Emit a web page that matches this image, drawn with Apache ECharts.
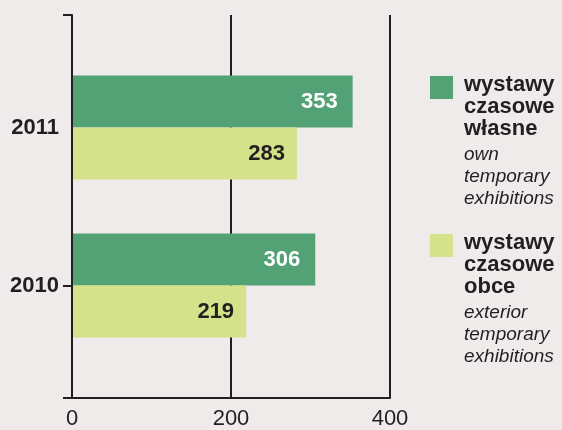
<!DOCTYPE html>
<html>
<head>
<meta charset="utf-8">
<script src="https://cdn.jsdelivr.net/npm/echarts@6/dist/echarts.min.js"></script>
<style>
  html, body { margin: 0; padding: 0; background: #efebea; }
  #chart { width: 562px; height: 430px; }
</style>
</head>
<body>
<div id="chart"></div>
<script>
var years = ['2010', '2011'];
var ownExhib = [306, 353];   // wystawy czasowe własne
var extExhib = [219, 283];   // wystawy czasowe obce
var ownName = 'wystawy czasowe własne';
var extName = 'wystawy czasowe obce';

var ink = '#231f20';
var green = '#52a275';
var lime = '#d4e28a';
var font = "'Liberation Sans', Arial, sans-serif";

var myChart = echarts.init(document.getElementById('chart'));

var option = {
    backgroundColor: '#efebea',
    textStyle: { fontFamily: font },
    animation: false,
    grid: [
        { left: 72, right: 172, top: 48.5, bottom: 65.5 },
        { left: 72, right: 172, top: 15, bottom: 29 }
    ],
    xAxis: [
        { gridIndex: 0, type: 'value', min: 0, max: 400, show: false },
        {
            gridIndex: 1, type: 'value', min: 0, max: 400, interval: 200, z: 0,
            axisLine: { show: true, lineStyle: { color: ink, width: 2 } },
            axisTick: { show: false },
            splitLine: { show: true, lineStyle: { color: ink, width: 2 } },
            axisLabel: { color: ink, fontSize: 22, fontFamily: font, margin: 10 }
        }
    ],
    yAxis: [
        {
            gridIndex: 0, type: 'category', data: years,
            axisLine: { show: false },
            axisTick: {
                show: true, alignWithLabel: true, length: 9,
                interval: function (i, v) { return v === '2010'; },
                lineStyle: { color: ink, width: 2 }
            },
            axisLabel: { color: ink, fontSize: 22, fontWeight: 'bold', fontFamily: font, margin: 13 }
        },
        {
            gridIndex: 1, type: 'value', min: 0, max: 1, interval: 1, z: 20,
            axisLine: { show: true, lineStyle: { color: ink, width: 2 } },
            axisTick: { show: true, length: 9, lineStyle: { color: ink, width: 2 } },
            axisLabel: { show: false },
            splitLine: { show: false }
        }
    ],
    legend: {
        orient: 'vertical',
        left: 425, top: 71,
        itemWidth: 23, itemHeight: 23, itemGap: 135,
        icon: 'rect',
        formatter: function () { return ''; },
        selectedMode: false,
        data: [ownName, extName]
    },
    graphic: [
        { type: 'text', left: 464, top: 74, style: { text: 'wystawy\nczasowe\nwłasne', font: 'bold 22px ' + font, lineHeight: 22, fill: ink } },
        { type: 'text', left: 464, top: 144, style: { text: 'own\ntemporary\nexhibitions', font: 'italic 19px ' + font, lineHeight: 22, fill: ink } },
        { type: 'text', left: 464, top: 232, style: { text: 'wystawy\nczasowe\nobce', font: 'bold 22px ' + font, lineHeight: 22, fill: ink } },
        { type: 'text', left: 464, top: 302, style: { text: 'exterior\ntemporary\nexhibitions', font: 'italic 19px ' + font, lineHeight: 22, fill: ink } }
    ],
    series: [
        {
            name: ownName, type: 'bar', xAxisIndex: 0, yAxisIndex: 0, z: 10,
            data: ownExhib, barWidth: 52, barGap: '0%',
            itemStyle: { color: green },
            label: { show: true, position: 'insideRight', distance: 15, color: '#ffffff', fontSize: 22, fontWeight: 'bold', fontFamily: font }
        },
        {
            name: extName, type: 'bar', xAxisIndex: 0, yAxisIndex: 0, z: 10,
            data: extExhib, barWidth: 52, barGap: '0%',
            itemStyle: { color: lime },
            label: { show: true, position: 'insideRight', distance: 12, color: ink, fontSize: 22, fontWeight: 'bold', fontFamily: font }
        }
    ]
};

myChart.setOption(option);
</script>
</body>
</html>
